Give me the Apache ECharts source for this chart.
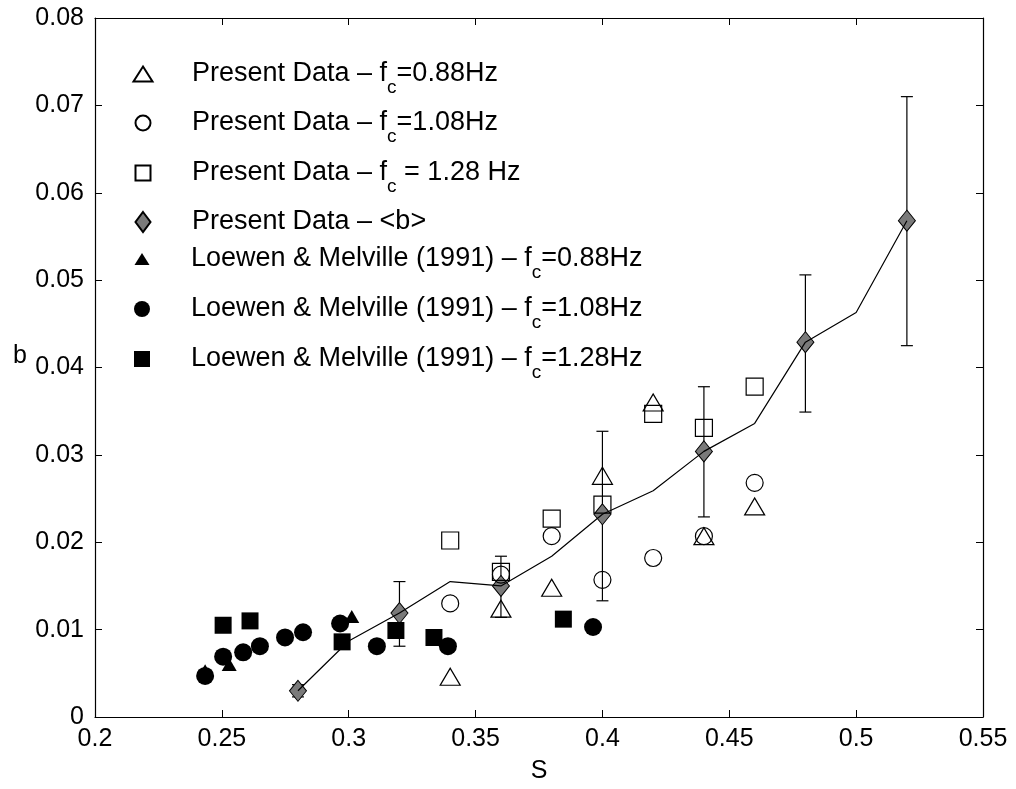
<!DOCTYPE html>
<html><head><meta charset="utf-8">
<script src="https://cdn.jsdelivr.net/npm/echarts@6/dist/echarts.min.js"></script>
<style>html,body{margin:0;padding:0;background:#fff}#c{width:1016px;height:789px}</style>
</head><body><div id="c"></div>
<script>
// ---- data ----
const presentS   = [0.34, 0.36, 0.38, 0.40, 0.42, 0.44, 0.46];
const present088 = [0.0046, 0.0124, 0.0148, 0.0276, 0.0360, 0.0207, 0.0241];
const present108 = [0.0130, 0.0163, 0.0207, 0.0157, 0.0182, 0.0207, 0.0268];
const present128 = [0.0202, 0.0166, 0.0227, 0.0243, 0.0347, 0.0331, 0.0378];

const meanS   = [0.28, 0.32, 0.36, 0.40, 0.44, 0.48, 0.52];
const meanB   = [0.0030, 0.0119, 0.0150, 0.0232, 0.0304, 0.0429, 0.0568];
const errLow  = [0.0023, 0.0081, 0.0114, 0.0133, 0.0229, 0.0349, 0.0425];
const errHigh = [0.0037, 0.0155, 0.0184, 0.0327, 0.0378, 0.0506, 0.0710];

const fitS = [0.28, 0.30, 0.32, 0.34, 0.36, 0.38, 0.40, 0.42, 0.44, 0.46, 0.48, 0.50, 0.52];
const fitB = [0.0030, 0.0087, 0.0119, 0.0155, 0.0150, 0.0184, 0.0232, 0.0259, 0.0304, 0.0336, 0.0429, 0.0463, 0.0568];

const lm088S = [0.2434, 0.2529, 0.3012];
const lm088B = [0.0053, 0.0060, 0.0115];
const lm108S = [0.2434, 0.2505, 0.2584, 0.2650, 0.2749, 0.2820, 0.2966, 0.3111, 0.3391, 0.3963];
const lm108B = [0.0047, 0.0069, 0.0074, 0.0081, 0.0091, 0.0097, 0.0107, 0.0081, 0.0081, 0.0103];
const lm128S = [0.2505, 0.2611, 0.2974, 0.3186, 0.3336, 0.3846];
const lm128B = [0.0105, 0.0110, 0.0086, 0.0099, 0.0091, 0.0112];

const seriesNames = [
  'Present Data – fc=0.88Hz',
  'Present Data – fc=1.08Hz',
  'Present Data – fc = 1.28 Hz',
  'Present Data – <b>',
  'Loewen & Melville (1991) – fc=0.88Hz',
  'Loewen & Melville (1991) – fc=1.08Hz',
  'Loewen & Melville (1991) – fc=1.28Hz'
];
const legendLabels = [
  '{m|Present Data – f}{s|c}{m|=0.88Hz}',
  '{m|Present Data – f}{s|c}{m|=1.08Hz}',
  '{m|Present Data – f}{s|c}{m| = 1.28 Hz}',
  '{m|Present Data – <b>}',
  '{m|Loewen & Melville (1991) – f}{s|c}{m|=0.88Hz}',
  '{m|Loewen & Melville (1991) – f}{s|c}{m|=1.08Hz}',
  '{m|Loewen & Melville (1991) – f}{s|c}{m|=1.28Hz}'
];

// ---- chart ----
const FONT = '"Liberation Sans", Arial, Helvetica, sans-serif';
const pairs = (xs, ys) => xs.map((x, i) => [x, ys[i]]);
const fmt = v => (Math.abs(v) < 1e-9 ? '0' : String(+v.toFixed(2)));

const openStyle = { color: 'rgba(0,0,0,0)', borderColor: '#000', borderWidth: 1.2, opacity: 1 };
const fillStyle = { color: '#000', borderColor: '#000', borderWidth: 0, opacity: 1 };

const legendCfg = [
  { cy: 74,  w: 19, h: 15 },
  { cy: 123, w: 15, h: 15 },
  { cy: 173, w: 15, h: 15 },
  { cy: 222, w: 15, h: 20 },
  { cy: 259, w: 15, h: 12 },
  { cy: 309, w: 16, h: 16 },
  { cy: 359, w: 16, h: 16 }
];
const ICON_X = 142, TEXT_X = 191, LH = 46;
const legends = legendCfg.map((c, i) => ({
  data: [seriesNames[i]],
  orient: 'vertical',
  left: ICON_X - c.w / 2,
  top: c.cy - LH / 2,
  padding: 0,
  itemWidth: c.w,
  itemHeight: c.h,
  symbolKeepAspect: false,
  selectedMode: false,
  formatter: () => legendLabels[i],
  textStyle: {
    fontFamily: FONT, fontSize: 27, color: '#000', lineHeight: LH,
    padding: [0, 0, 0, TEXT_X - (ICON_X + c.w / 2) - 5],
    rich: {
      m: { fontFamily: FONT, fontSize: 27, color: '#000', lineHeight: LH, verticalAlign: 'middle' },
      s: { fontFamily: FONT, fontSize: 19, color: '#000', lineHeight: 14, verticalAlign: 'bottom' }
    }
  }
}));

const axisCommon = {
  type: 'value',
  axisLine: { show: true, onZero: false, lineStyle: { color: '#000', width: 1.2 } },
  axisTick: { show: true, inside: true, length: 7, lineStyle: { color: '#000', width: 1 } },
  splitLine: { show: false }
};

const option = {
  animation: false,
  backgroundColor: '#fff',
  grid: { left: 95, right: 33, top: 18, bottom: 71, containLabel: false },
  legend: legends,
  xAxis: [
    Object.assign({}, axisCommon, {
      position: 'bottom', min: 0.2, max: 0.55, interval: 0.05,
      name: 'S', nameLocation: 'middle', nameGap: 42,
      nameTextStyle: { fontFamily: FONT, fontSize: 25, color: '#000' },
      axisLabel: { fontFamily: FONT, fontSize: 25, color: '#000', margin: 10, formatter: fmt }
    }),
    Object.assign({}, axisCommon, {
      position: 'top', min: 0.2, max: 0.55, interval: 0.05,
      axisLabel: { show: false }
    })
  ],
  yAxis: [
    Object.assign({}, axisCommon, {
      position: 'left', min: 0, max: 0.08, interval: 0.01,
      name: 'b', nameLocation: 'middle', nameRotate: 0, nameGap: 68,
      nameTextStyle: { fontFamily: FONT, fontSize: 25, color: '#000', verticalAlign: 'bottom', lineHeight: 22 },
      axisLabel: { fontFamily: FONT, fontSize: 25, color: '#000', margin: 11, formatter: fmt }
    }),
    Object.assign({}, axisCommon, {
      position: 'right', min: 0, max: 0.08, interval: 0.01,
      axisLabel: { show: false }
    })
  ],
  series: [
    {
      type: 'custom', name: 'errorbars', silent: true,
      data: meanS.map((s, i) => [s, errLow[i], errHigh[i]]),
      encode: { x: 0, y: [1, 2] },
      renderItem: (params, api) => {
        const x = api.value(0);
        const lo = api.coord([x, api.value(1)]);
        const hi = api.coord([x, api.value(2)]);
        const w = 6;
        const st = { stroke: '#000', lineWidth: 1.2 };
        return {
          type: 'group', children: [
            { type: 'line', shape: { x1: lo[0], y1: lo[1], x2: hi[0], y2: hi[1] }, style: st },
            { type: 'line', shape: { x1: lo[0] - w, y1: lo[1], x2: lo[0] + w, y2: lo[1] }, style: st },
            { type: 'line', shape: { x1: hi[0] - w, y1: hi[1], x2: hi[0] + w, y2: hi[1] }, style: st }
          ]
        };
      }
    },
    {
      type: 'scatter', name: seriesNames[3], data: pairs(meanS, meanB),
      symbol: 'diamond', symbolSize: [17, 21],
      itemStyle: { color: '#7a7a7a', borderColor: '#000', borderWidth: 1, opacity: 1 }
    },
    {
      type: 'line', name: 'fit', data: pairs(fitS, fitB), showSymbol: false, silent: true,
      lineStyle: { color: '#000', width: 1.2 }
    },
    {
      type: 'scatter', name: seriesNames[0], data: pairs(presentS, present088),
      symbol: 'triangle', symbolSize: [20, 17], itemStyle: openStyle
    },
    {
      type: 'scatter', name: seriesNames[1], data: pairs(presentS, present108),
      symbol: 'circle', symbolSize: 17, itemStyle: openStyle
    },
    {
      type: 'scatter', name: seriesNames[2], data: pairs(presentS, present128),
      symbol: 'rect', symbolSize: 17, itemStyle: openStyle
    },
    {
      type: 'scatter', name: seriesNames[4], data: pairs(lm088S, lm088B),
      symbol: 'triangle', symbolSize: [15, 13], itemStyle: fillStyle
    },
    {
      type: 'scatter', name: seriesNames[5], data: pairs(lm108S, lm108B),
      symbol: 'circle', symbolSize: 18, itemStyle: fillStyle
    },
    {
      type: 'scatter', name: seriesNames[6], data: pairs(lm128S, lm128B),
      symbol: 'rect', symbolSize: 17, itemStyle: fillStyle
    }
  ]
};

const chart = echarts.init(document.getElementById('c'), null, { renderer: 'canvas' });
chart.setOption(option);
</script>
</body></html>
